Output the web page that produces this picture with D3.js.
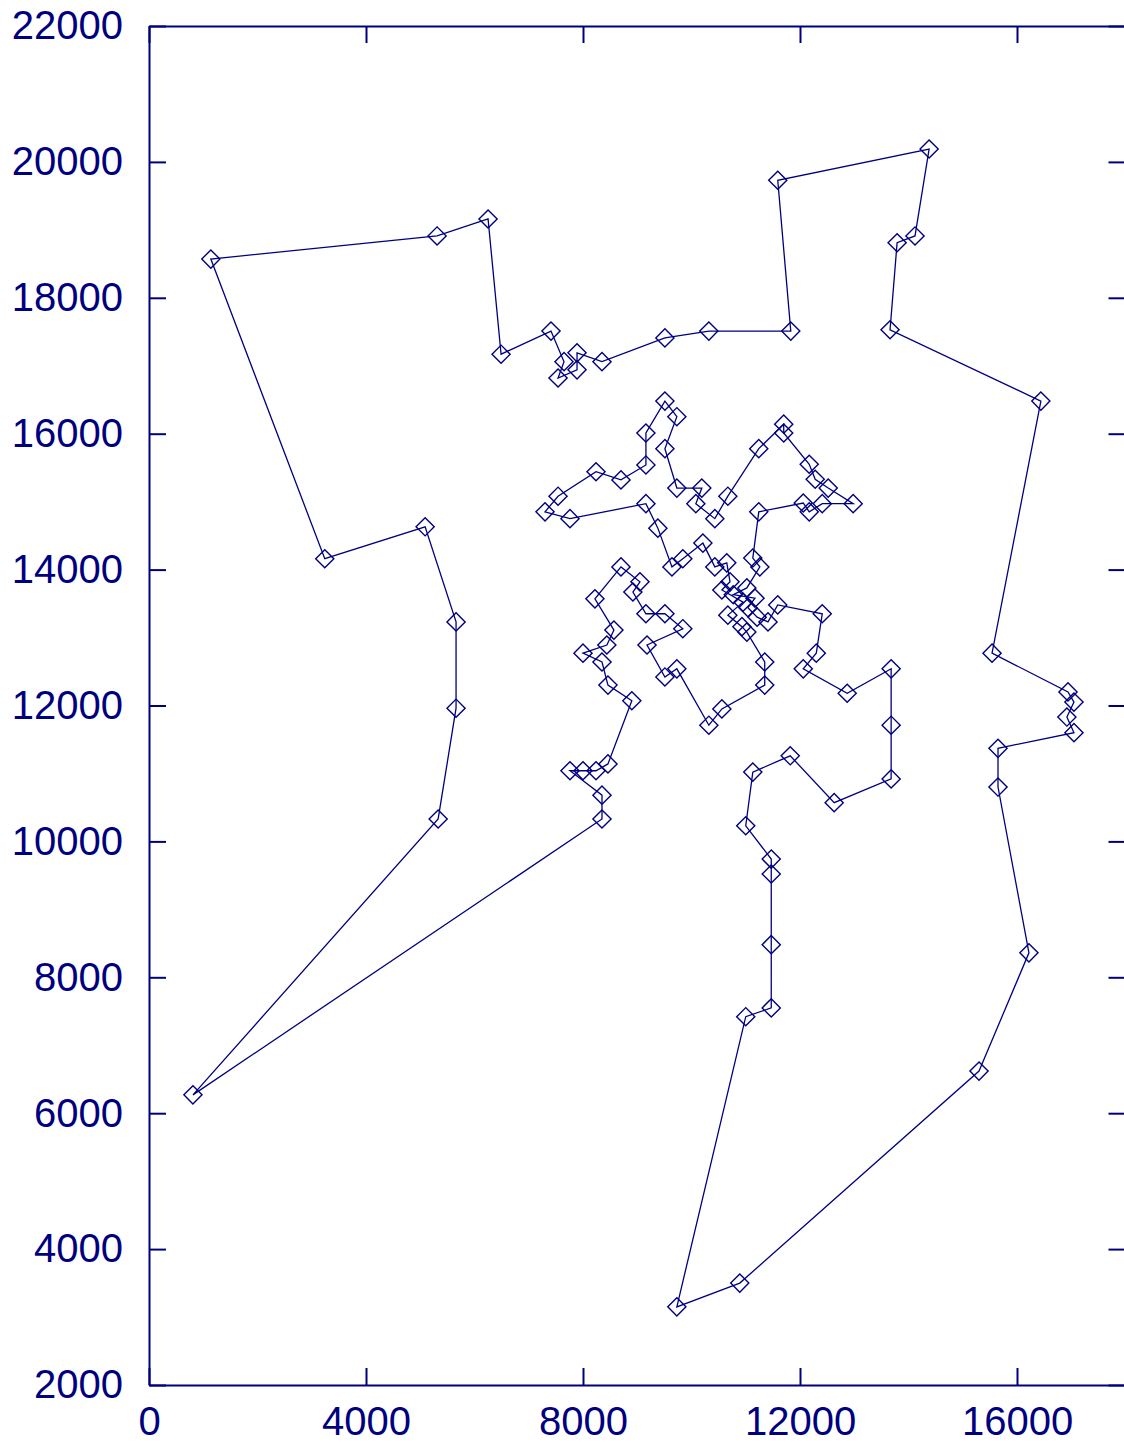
<!DOCTYPE html>
<html>
<head>
<meta charset="utf-8">
<script src="https://cdn.jsdelivr.net/npm/d3@7"></script>
<style>
  html, body { margin: 0; padding: 0; background: #fff; }
  svg { display: block; }
  .axis text { font-family: "Liberation Sans", Arial, sans-serif; font-size: 40px; fill: #00007f; }
  .axis path, .axis line { stroke: #00007f; stroke-width: 2; }
</style>
</head>
<body>
<script>
// Tour city coordinates, in visiting order (closed loop)
const tourX = [810,5330,5660,5660,5090,3240,1140,5310,6250,6490,7410,7650,7540,7890,7890,8350,9510,10320,11830,11590,
  14380,14120,13790,13660,16440,15540,16940,17050,16920,17050,15650,15650,16220,15300,10890,9730,11000,11470,11470,11470,
  11470,11000,11130,11820,12630,13680,13680,13680,12870,12060,12300,12410,11590,11410,11210,11040,11170,10770,11020,11260,
  11130,11240,12060,12170,12410,12980,12520,12280,12170,11700,11700,11240,10670,10430,10080,10190,9730,9510,9730,9510,
  9160,9160,8700,8240,7540,7300,7760,9160,9380,9640,9840,10210,10430,10650,10710,10560,10950,10670,10930,11020,
  11350,11350,10560,10320,9730,9510,9180,9840,9510,9160,8920,9050,8700,8220,8570,8440,8000,8350,8460,8900,
  8460,8240,8000,7760,8350,8350];
const tourY = [6270,10330,11960,13230,14630,14160,18570,18910,19160,17170,17510,17060,16820,16940,17190,17060,17410,17510,17510,19730,
  20190,18910,18810,17530,16480,12770,12200,12050,11830,11600,11370,10800,8360,6620,3500,3150,7420,7550,8480,9520,
  9740,10230,11020,11260,10570,10920,11710,12540,12180,12540,12770,13350,13480,13230,13300,13440,13580,13630,13730,14040,
  14170,14850,14980,14850,14970,14970,15200,15330,15550,16010,16140,15780,15080,14750,14970,15200,15200,15780,16250,16480,
  16010,15540,15320,15440,15080,14850,14750,14970,14610,14040,14160,14390,14040,14100,13820,13700,13520,13330,13160,13080,
  12640,12300,11950,11710,12540,12420,12890,13130,13350,13350,13670,13820,14040,13570,13110,12890,12770,12640,12300,12070,
  11140,11040,11040,11040,10680,10330];
const xTicks = [0, 4000, 8000, 12000, 16000];
const yTicks = [2000, 4000, 6000, 8000, 10000, 12000, 14000, 16000, 18000, 20000, 22000];
const xDomain = [0, 18000];
const yDomain = [2000, 22000];

const W = 1124, H = 1447;
const margin = { left: 149, top: 26, right: W - 1125.5, bottom: H - 1385 };
const color = "#00007f";

const svg = d3.select("body").append("svg").attr("width", W).attr("height", H);

const x = d3.scaleLinear().domain(xDomain).range([margin.left, W - margin.right]);
const y = d3.scaleLinear().domain(yDomain).range([H - margin.bottom, margin.top]);

const pts = tourX.map((v, i) => [v, tourY[i]]);

// tour line
const line = d3.line().x(d => x(d[0])).y(d => y(d[1]));
svg.append("path")
  .datum(pts.concat([pts[0]]))
  .attr("d", line)
  .attr("fill", "none")
  .attr("stroke", color)
  .attr("stroke-width", 1.3);

// diamond markers
const sym = d3.symbol().type(d3.symbolSquare).size(165);
svg.append("g").selectAll("path")
  .data(pts)
  .join("path")
  .attr("d", sym)
  .attr("transform", d => `translate(${x(d[0])},${y(d[1])}) rotate(45)`)
  .attr("fill", "none")
  .attr("stroke", color)
  .attr("stroke-width", 1.4);

// axes (ticks pointing inward, mirrored on all four sides)
const tk = 17;
svg.append("g").attr("class", "axis")
  .attr("transform", `translate(0,${H - margin.bottom})`)
  .call(d3.axisBottom(x).tickValues(xTicks).tickSize(-tk).tickSizeOuter(0).tickPadding(22).tickFormat(d3.format("d")));
svg.append("g").attr("class", "axis")
  .attr("transform", `translate(${margin.left},0)`)
  .call(d3.axisLeft(y).tickValues(yTicks).tickSize(-tk).tickSizeOuter(0).tickPadding(26).tickFormat(d3.format("d")));
svg.append("g").attr("class", "axis")
  .attr("transform", `translate(0,${margin.top})`)
  .call(d3.axisTop(x).tickValues(xTicks).tickSize(-tk).tickSizeOuter(0).tickFormat(""));
svg.append("g").attr("class", "axis")
  .attr("transform", `translate(${W - margin.right},0)`)
  .call(d3.axisRight(y).tickValues(yTicks).tickSize(-tk).tickSizeOuter(0).tickFormat(""));
svg.selectAll(".axis .domain").attr("stroke", color);
</script>
</body>
</html>
